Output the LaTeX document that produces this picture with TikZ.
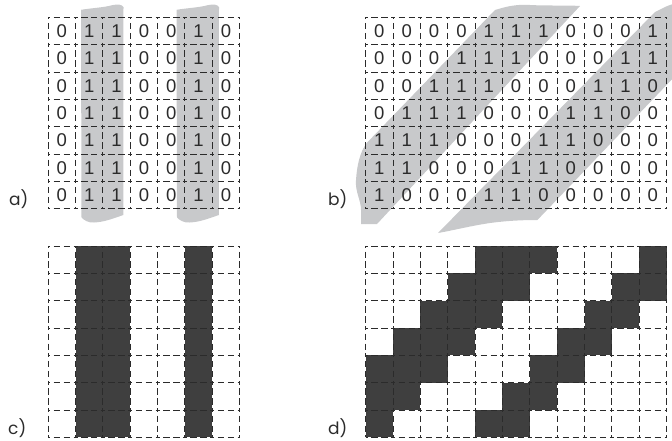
\documentclass[tikz,border=0pt]{standalone}
\usepackage{fontspec}
\setmainfont{Liberation Sans}
\newfontfamily\labfont{Poppins}
\definecolor{bandgray}{HTML}{C8C9CB}
\definecolor{ink}{HTML}{2B2B2B}
\definecolor{cellfill}{HTML}{3F3F3F}
\newcommand\mygrid[5]{%
  \foreach \i in {0,...,#4} \draw[gridline] (#1,{#2+\i*#5}) -- ({#1+#3*#5},{#2+\i*#5});
  \foreach \j in {0,...,#3} \draw[gridline] ({#1+\j*#5},#2) -- ({#1+\j*#5},{#2+#4*#5});
}
\begin{document}
\begin{tikzpicture}[x=1pt,y=-1pt,
  gridline/.style={draw=ink, line width=1pt, dash pattern=on 4pt off 3.5pt on 6.45pt off 3.5pt on 6.45pt off 3.45pt, dash phase=2pt},
  digit/.style={inner sep=0pt, font=\fontsize{18.5}{18.5}\selectfont, text=ink},
  lbl/.style={inner sep=0pt, anchor=base west, font=\labfont\fontsize{17}{17}\selectfont, text=ink},
  bandfill/.style={fill=bandgray, draw=none},
  dark/.style={fill=cellfill, draw=none}]
\useasboundingbox (0,0) rectangle (672,440);
% ---------- panel a bands
\foreach \dx in {0,95.5}{
\fill[bandfill, xshift=\dx pt] (81,9.8) .. controls (92,8) and (104,7.5) .. (112,5.2) .. controls (118,4) and (122,4.5) .. (123.5,7) -- (123.3,215) .. controls (112,219) and (104,222) .. (94,222.5) .. controls (88,223) and (84,220) .. (81.5,217.5) -- cycle;
}
% ---------- panel b bands
\fill[bandfill] (495,10) .. controls (505,7) and (515,4) .. (530,5) .. controls (550,6) and (565,5) .. (580,6) -- (377,224) .. controls (372,224.5) and (366,224) .. (361,224) -- (361,210) .. controls (361,200) and (355,192) .. (356,180) .. controls (357,165) and (360,152) .. (366.7,143) -- cycle;
\fill[bandfill] (655,12) .. controls (662,9) and (668,4) .. (680,3) -- (745,3) -- (537.4,220) .. controls (520,220) and (505,221) .. (490,223) .. controls (470,226) and (455,230) .. (438,233) -- cycle;
% ---------- panel a digits
\foreach \r in {0,...,6}{
  \foreach \v [count=\c from 0] in {0,1,1,0,0,1,0}{
    \node[digit] (a-\r-\c) at ({48.2+27.35*(\c+0.5)},{17.3+27.35*(\r+0.5)}) {\v};
  }
}
% ---------- panel b digits
\foreach \r/\row in {0/{0,0,0,0,1,1,1,0,0,0,1},1/{0,0,0,1,1,1,0,0,0,1,1},2/{0,0,1,1,1,0,0,0,1,1,0},3/{0,1,1,1,0,0,0,1,1,0,0},4/{1,1,1,0,0,0,1,1,0,0,0},5/{1,1,0,0,0,1,1,0,0,0,0},6/{1,0,0,0,1,1,0,0,0,0,0}}{
  \foreach \v [count=\c from 0] in \row {
    \node[digit] (b-\r-\c) at ({365.7+27.35*(\c+0.5)},{17.3+27.35*(\r+0.5)}) {\v};
  }
}
% ---------- panel c dark cells
\foreach \c in {1,2,5}{
  \fill[dark] ({48.2+27.35*\c},246) rectangle ({48.2+27.35*(\c+1)},{246+27.35*7});
}
% ---------- panel d dark cells
\foreach \r/\row in {0/{0,0,0,0,1,1,1,0,0,0,1},1/{0,0,0,1,1,1,0,0,0,1,1},2/{0,0,1,1,1,0,0,0,1,1,0},3/{0,1,1,1,0,0,0,1,1,0,0},4/{1,1,1,0,0,0,1,1,0,0,0},5/{1,1,0,0,0,1,1,0,0,0,0},6/{1,0,0,0,1,1,0,0,0,0,0}}{
  \foreach \v [count=\c from 0] in \row {
    \ifnum\v=1
      \fill[dark] ({365.7+27.35*\c},{246+27.35*\r}) rectangle ({365.7+27.35*(\c+1)},{246+27.35*(\r+1)});
    \fi
  }
}
% ---------- grids
\mygrid{48.2}{17.3}{7}{7}{27.35}
\mygrid{365.7}{17.3}{11}{7}{27.35}
\mygrid{48.2}{246}{7}{7}{27.35}
\mygrid{365.7}{246}{11}{7}{27.35}
% ---------- labels
\node[lbl] (la) at (9,205) {a)};
\node[lbl] (lb) at (328,205) {b)};
\node[lbl] (lc) at (8,434) {c)};
\node[lbl] (ld) at (328,434) {d)};
\end{tikzpicture}
\end{document}
